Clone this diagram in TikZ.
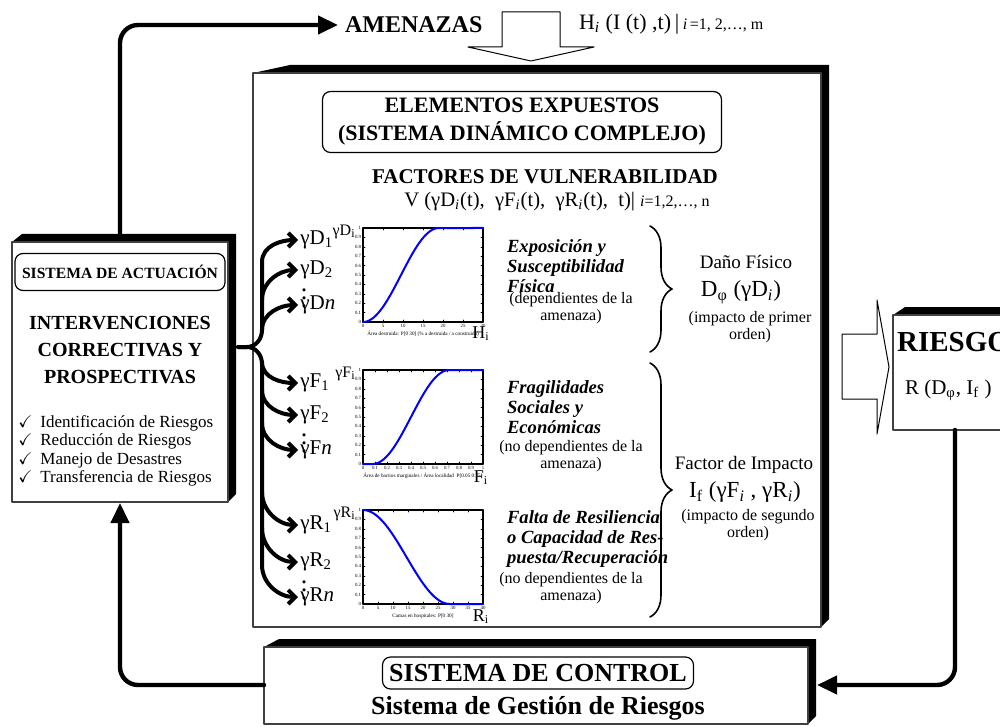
\documentclass[tikz,border=0pt]{standalone}
\usepackage{amssymb}
\usepackage{fontspec}
\setmainfont{Liberation Serif}
\usetikzlibrary{arrows.meta,decorations.pathreplacing,positioning}
\newcommand{\tam}[2]{\fontsize{#1}{#2}\selectfont}
% caja con sombra: x1,y1,x2,y2,desplazamiento
\newcommand{\caja}[5]{%
  \fill (#1,#2) -- (#1+#5,#2-8) -- (#3+8,#2-8) -- (#3+8,#4-8) -- (#3,#4) -- cycle;
  \draw[black!75,fill=white,line width=0.6pt] (#1,#2) rectangle (#3,#4);}
% marco de grafica: arriba, paso, etiquetas x, leyenda
\newcommand{\grafica}[4]{%
  \begin{scope}[shift={(363,#1)}]
    \foreach \j in {0,...,10} {
      \draw[line width=0.3pt] (0,{94-9.4*\j}) -- ++(2,0) (120,{94-9.4*\j}) -- ++(-2,0);
      \node[left,inner sep=0.8pt,font=\tam{2.4}{3}] (ty\j) at (0,{94-9.4*\j}) {\ifnum\j=0 0\else\ifnum\j=10 1\else 0.\j\fi\fi};
    }
    \foreach \et [count=\n from 0] in {#3} {
      \draw[line width=0.3pt] ({#2*\n},94) -- ++(0,-2) ({#2*\n},0) -- ++(0,2);
      \node[below,inner sep=0.8pt,font=\tam{2.4}{3}] (tx\n) at ({#2*\n},94) {\et};
    }
    \node[font=\tam{2.6}{3}] (ley) at (60,106) {#4};
    \draw[line width=1pt] (0,0) rectangle (120,94);
  \end{scope}}
\begin{document}
\begin{tikzpicture}[x=0.5pt,y=-0.5pt,line join=round,line cap=round,
    conector/.style={line width=2.2pt,rounded corners=9pt},
    punta/.style={-{Triangle[length=10pt,width=9pt]}},
    rama/.style={line width=2pt,-{Straight Barb[length=3.5pt,width=7pt]}},
    marco/.style={draw,rounded corners=4pt,line width=0.6pt},
    curva/.style={blue,line width=1pt},
    grupo/.style={anchor=west,align=left,font=\tam{9.3}{10}\bfseries\itshape},
    nota/.style={align=center,font=\tam{8}{5.8}},
    llave/.style={line width=0.8pt,decorate,decoration={brace,amplitude=11pt}}]
  \useasboundingbox (0,0) rectangle (1000,727);
  % cajas
  \caja{12}{242}{228}{502}{10}
  \caja{253}{73}{821}{627}{37}
  \caja{264}{647}{808}{724}{15}
  \caja{893}{315}{1040}{430}{12}
  % flechas huecas
  \draw[fill=white,line width=0.5pt] (502,12) -- (560,12) -- (560,47) -- (594,47) -- (531,61) -- (468,47) -- (502,47) -- cycle;
  \draw[fill=white,line width=0.5pt] (842,334) -- (877,334) -- (877,300) -- (889,367) -- (877,434) -- (877,399) -- (842,399) -- cycle;
  % amenazas
  \node[anchor=west] (amen) at (338,25) {\tam{12}{14}\bfseries AMENAZAS};
  \node[anchor=west] (hfun) at (572,24) {\tam{11}{13}H\textsubscript{\textit{i}} (I (t) ,t)\,\textbar\,\tam{8}{9}\textit{i}\,=1, 2,…, m};
  % sistema de actuacion
  \node[marco,minimum width=105pt,minimum height=18.5pt] (sact) at (120,272) {\tam{7.8}{9}\bfseries SISTEMA DE ACTUACIÓN};
  \node[align=center,font=\tam{10}{13.5}\bfseries] (interv) at (120,350) {INTERVENCIONES\\CORRECTIVAS Y\\PROSPECTIVAS};
  \node[anchor=west,align=left,inner sep=0pt,font=\tam{8.5}{9.2}] (lista) at (18,451) {%
    \makebox[11pt][l]{$\checkmark$}Identificación de Riesgos\\
    \makebox[11pt][l]{$\checkmark$}Reducción de Riesgos\\
    \makebox[11pt][l]{$\checkmark$}Manejo de Desastres\\
    \makebox[11pt][l]{$\checkmark$}Transferencia de Riesgos};
  % elementos expuestos
  \node[marco,align=center,minimum width=199.5pt,minimum height=30.5pt,font=\tam{11}{14}\bfseries] (elem) at (522,122) {ELEMENTOS EXPUESTOS\\(SISTEMA DINÁMICO COMPLEJO)};
  \node (fact) at (545,177) {\tam{10.5}{12}\bfseries FACTORES DE VULNERABILIDAD};
  \node (vfun) at (557,202) {\tam{10.3}{12}V (γD\textsubscript{\textit{i}}(t),\ \ γF\textsubscript{\textit{i}}(t),\ \ γR\textsubscript{\textit{i}}(t),\ \ t)\textbar\ \tam{8}{9}\textit{i}=1,2,…, n};
  % graficas
  \grafica{228}{20}{0,5,10,15,20,25,30}{Área destruida: P[0 30] (\% a destruida / a construida)}
  \draw[curva] plot[domain=0:19,samples=40] ({363+4*\x},{275+47*cos(180*\x/19)}) -- (483,228);
  \grafica{370}{12}{0,0.1,0.2,0.3,0.4,0.5,0.6,0.7,0.8,0.9,1}{Área de barrios marginales / Área localidad \ P[0.05 0.75]}
  \draw[curva] (363,464) -- (372.6,464) plot[domain=0.08:0.72,samples=40] ({363+120*\x},{417+47*cos(180*(\x-0.08)/0.64)}) -- (483,370);
  \grafica{510}{15}{0,5,10,15,20,25,30,35,40}{Camas en hospitales: P[0 30]}
  \draw[curva] plot[domain=0:29,samples=40] ({363+3*\x},{557-47*cos(180*\x/29)}) -- (483,604);
  \node[anchor=east,inner sep=0.5pt] (yd) at (357,232) {\tam{8}{9}γD\textsubscript{i}};
  \node (xh) at (481,334) {\tam{9}{10}H\textsubscript{i}};
  \node[anchor=east,inner sep=0.5pt] (yf) at (357,374) {\tam{8}{9}γF\textsubscript{i}};
  \node (xf) at (481,478) {\tam{9}{10}F\textsubscript{i}};
  \node[anchor=east,inner sep=0.5pt] (yr) at (357,514) {\tam{8}{9}γR\textsubscript{i}};
  \node (xr) at (481,617) {\tam{9}{10}R\textsubscript{i}};
  % etiquetas de las ramas
  \foreach \l/\y in {D/240,F/383,R/525} \node[anchor=west,inner sep=1pt] (\l1) at (298,\y) {\tam{10.5}{12}γ\l\textsubscript{1}};
  \foreach \l/\y in {D/270,F/415,R/562} \node[anchor=west,inner sep=1pt] (\l2) at (298,\y) {\tam{10.5}{12}γ\l\textsubscript{2}};
  \foreach \l/\y in {D/305,F/450,R/597} \node[anchor=west,inner sep=1pt] (\l n) at (298,\y) {\tam{10.5}{12}γ\l\textit{n}};
  \foreach \l/\y in {D/292,F/437,R/584} \node (\l p) at (304,\y) {\tam{13}{13}$\vdots$};
  % ramas
  \coordinate (actE) at (238,347);
  \draw[rama] (actE) -- (247,347) to[out=0,in=-90] (262,330) -- (262,262) to[out=90,in=180] (D1.west);
  \draw[rama] (262,300) to[out=90,in=180] (D2.west);
  \draw[rama] (262,330) to[out=90,in=180] (Dn.west);
  \draw[rama] (actE) -- (247,347) to[out=0,in=90] (262,364) -- (262,565) to[out=-90,in=180] (Rn.west);
  \draw[rama] (262,362) to[out=-90,in=180] (F1.west);
  \draw[rama] (262,390) to[out=-90,in=180] (F2.west);
  \draw[rama] (262,423) to[out=-90,in=180] (Fn.west);
  \draw[rama] (262,492) to[out=-90,in=180] (R1.west);
  \draw[rama] (262,528) to[out=-90,in=180] (R2.west);
  % textos de los grupos
  \node[grupo] (g1) at (500,266) {Exposición y\\Susceptibilidad\\Física};
  \node[nota] (p1) at (571,308) {(dependientes de la\\amenaza)};
  \node[grupo] (g2) at (500,407) {Fragilidades\\Sociales y\\Económicas};
  \node[nota] (p2) at (571,456) {(no dependientes de la\\amenaza)};
  \node[grupo] (g3) at (500,539) {Falta de Resiliencia\\o Capacidad de Res-\\puesta/Recuperación};
  \node[nota] (p3) at (571,588) {(no dependientes de la\\amenaza)};
  % llaves
  \draw[llave] (650,226) -- (650,352);
  \draw[llave] (650,363) -- (650,617);
  \node (dano) at (746,262) {\tam{9.5}{11}Daño Físico};
  \node (dphi) at (741,292) {\tam{11.5}{13}D\textsubscript{φ} (γD\textsubscript{\textit{i}})};
  \node[nota] (imp1) at (750,327) {(impacto de primer\\orden)};
  \node (fimp) at (744,465) {\tam{9.5}{11}Factor de Impacto};
  \node (ifun) at (745,492) {\tam{11.5}{13}I\textsubscript{f} (γF\textsubscript{\textit{i}} , γR\textsubscript{\textit{i}})};
  \node[nota] (imp2) at (748,525) {(impacto de segundo\\orden)};
  % riesgo
  \node[anchor=west] (ries) at (890,342) {\tam{14.5}{16}\bfseries RIESGO};
  \node[anchor=west] (rfun) at (898,390) {\tam{10.5}{12}R (D\textsubscript{φ}, I\textsubscript{f} )};
  % sistema de control
  \node[marco,minimum width=153pt,minimum height=16pt] (sctrl) at (538,673) {\tam{13}{15}\bfseries SISTEMA DE CONTROL};
  \node (sges) at (538,708) {\tam{13}{15}\bfseries Sistema de Gestión de Riesgos};
  % lazos de realimentacion
  \coordinate (actN) at (120,234);
  \coordinate (actS) at (120,503);
  \coordinate (ctrlW) at (264,685);
  \coordinate (ctrlE) at (817,685);
  \coordinate (riesS) at (955,430);
  \draw[conector,punta] (actN) |- (amen.west);
  \draw[conector,punta] (ctrlW) -| (actS);
  \draw[conector,punta] (riesS) |- (ctrlE);
\end{tikzpicture}
\end{document}
